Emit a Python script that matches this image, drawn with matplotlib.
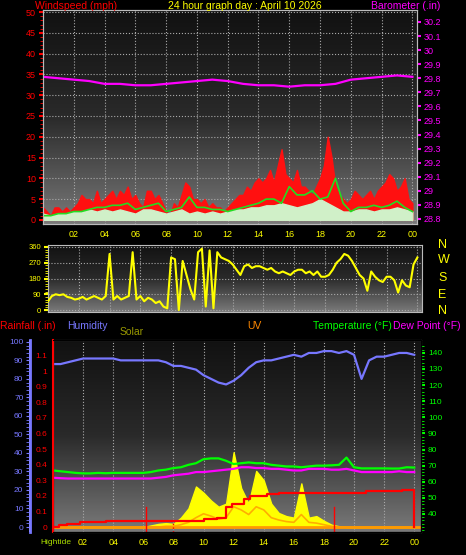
import numpy as np
import matplotlib
matplotlib.use("Agg")
import matplotlib.pyplot as plt
from matplotlib.colors import LinearSegmentedColormap

plt.rcParams['font.family'] = ['Liberation Sans', 'DejaVu Sans']

W, H = 466, 555

# ---------------- data ----------------
hours_q = np.arange(97) * 0.25   # quarter-hourly
hours_h = np.arange(49) * 0.5    # half-hourly
hours_1 = np.arange(25)          # hourly

wind_gust = [3, 2, 1, 3, 3, 2, 3, 2, 3, 4, 6, 5, 5, 4, 7, 4, 5, 6, 7, 5,
             7, 6, 8, 5, 6, 4, 3, 7, 7, 5, 6, 4, 2, 1, 4, 3, 6, 9, 8, 5,
             5, 4, 5, 3, 4, 3, 3, 2, 3, 4, 5, 6, 6, 8, 7, 9, 10, 9, 10, 12,
             9, 13, 17, 11, 10, 9, 12, 8, 8, 7, 6, 8, 10, 13, 20, 15, 8, 6, 5, 4,
             5, 7, 6, 5, 6, 7, 5, 7, 8, 9, 11, 10, 7, 8, 10, 5, 4]
wind_avg = [1.5, 1, 1.5, 1.5, 2, 2, 2.5, 2, 2.5, 2, 2.5, 2, 1.5, 2.5, 2.5, 2, 1.5, 2, 2.5,
            1.5, 2, 1.5, 2, 1.5, 2, 2.5, 2.5, 3, 3, 3.5, 3.5, 4, 3.5, 3, 3.5, 4, 5, 4, 3,
            2, 2, 2.5, 2.5, 2, 2.5, 2.5, 3, 2.5, 2]
wind_line = [1, 1, 1.5, 1.5, 2, 2, 2.5, 3, 3, 3.5, 3.5, 4, 2.5, 3, 3.5, 4, 2, 2.5, 3,
             5.5, 3, 3, 2.5, 2.5, 2, 2.5, 3, 3.5, 4, 5, 5, 4, 8, 6, 6, 7, 5, 5.5, 10,
             4, 2, 3, 3, 3.5, 3, 3.5, 4.5, 3, 2]
baro = [29.81, 29.80, 29.79, 29.78, 29.76, 29.76, 29.75, 29.75, 29.76, 29.77, 29.78,
        29.79, 29.78, 29.76, 29.75, 29.75, 29.74, 29.75, 29.75, 29.76, 29.79, 29.80,
        29.81, 29.82, 29.81]

wind_dir = [50, 80, 90, 85, 90, 75, 70, 60, 65, 75, 60, 70, 80, 70, 60, 80,
            320, 60, 80, 60, 70, 80, 330, 60, 80, 50, 70, 60, 40, 50, 20, 10,
            300, 290, 0, 280, 200, 120, 60, 330, 350, 20, 340, 10, 330, 300, 290, 280,
            260, 230, 200, 250, 260, 240, 250, 250, 240, 230, 240, 220, 210, 220, 210, 200,
            220, 230, 230, 210, 220, 200, 220, 190, 190, 200, 230, 270, 290, 320, 310, 280,
            240, 200, 180, 110, 220, 190, 170, 160, 190, 190, 170, 100, 170, 140, 130, 260, 300]

humidity = [88, 88, 89, 90, 91, 91, 91, 91, 91, 90, 90, 90, 90, 90, 90, 89, 87, 87,
            86, 85, 82, 80, 78, 77, 79, 82, 86, 89, 90, 90, 91, 92, 93, 92, 94, 94,
            95, 95, 94, 95, 93, 80, 90, 92, 92, 93, 94, 94, 93]
temp = [67, 66.5, 66, 65.5, 65.2, 65.2, 65.5, 65.3, 65.5, 65.5, 65.5, 65.5, 65.5, 66,
        67, 67.5, 68.5, 69, 70.5, 71.5, 74, 74.5, 74.5, 73, 71, 71.5, 72, 71.5, 71.5,
        70.5, 70, 69.5, 69.5, 69, 69.5, 70, 70, 70.2, 70.5, 75, 69, 68.3, 68.3, 68.3,
        68.3, 68.2, 68.2, 69, 68.8]
dewpt = [62.5, 62.2, 62, 62, 62, 62, 62, 62, 62, 62, 62, 62, 62, 62, 62.5, 63, 64,
         64.5, 65, 66, 66, 66.5, 67, 67.5, 68, 69, 69, 68.5, 68.5, 68, 68, 67.5, 67,
         67, 68, 68, 68, 67.5, 67.5, 68, 67, 66, 66, 66, 66, 66, 66.5, 66, 66]
solar = [0, 0, 0, 0, 0, 0, 0, 0, 0, 0, 0, 0, 0, 10, 20, 25, 20, 60, 120, 260,
         220, 170, 130, 150, 480, 250, 150, 360, 300, 150, 90, 70, 60, 280, 60, 70,
         40, 15, 5, 0, 0, 0, 0, 0, 0, 0, 0, 0, 0]
uv = [0, 0, 0, 0, 0, 0, 0, 0, 0, 0, 0, 0, 0, 0, 0, 5, 5, 15, 30, 60,
      85, 70, 50, 60, 130, 110, 80, 130, 110, 60, 45, 35, 30, 80, 30, 25,
      15, 5, 0, 0, 0, 0, 0, 0, 0, 0, 0, 0, 0]
rain_t = [0, 0.4, 0.9, 1.8, 3.5, 10.0, 10.9, 11.5, 11.9, 12.7, 13.1, 14.2, 15.0, 20.8, 23.2, 23.95, 23.98]
rain = [0, 0.01, 0.02, 0.03, 0.04, 0.05, 0.06, 0.13, 0.15, 0.18, 0.20, 0.21, 0.22, 0.23, 0.24, 0.24, 0.0]

xticks = list(range(2, 25, 2))
xlabels = ["%02d" % (h % 24) for h in xticks]

# ---------------- helpers ----------------
fig = plt.figure(figsize=(W / 100, H / 100), dpi=100, facecolor='black')
bg = LinearSegmentedColormap.from_list('bg', ['#111111', '#2a2a2a', '#7a7a7a'])
grad = np.linspace(0, 1, 256).reshape(-1, 1)


def px(x0, y0, x1, y1):
    return [x0 / W, 1 - y1 / H, (x1 - x0) / W, (y1 - y0) / H]


def panel(rect, xlim, ylim):
    ax = fig.add_axes(px(*rect))
    ax.set_facecolor('black')
    ax.imshow(grad, cmap=bg, aspect='auto', extent=[0, 1, 0, 1],
              transform=ax.transAxes, zorder=0)
    ax.set_xlim(*xlim)
    ax.set_ylim(*ylim)
    for s in ax.spines.values():
        s.set_color('#bbbbbb')
    ax.grid(True, color='#aaaaaa', linestyle=':', linewidth=0.8, zorder=1)
    return ax


def fmt_axis(ax, color, side='left', size=6.5):
    ax.tick_params(axis='y', colors=color, labelsize=size, length=3, width=1.5,
                   direction='out', pad=2, left=(side == 'left'), right=(side == 'right'),
                   labelleft=(side == 'left'), labelright=(side == 'right'))


# ---------------- top panel: wind + barometer ----------------
ax1 = panel((43, 10, 417, 224), (0, 24.3), (-1, 50.5))
ax1.fill_between(hours_q, 0, wind_gust, color='#ff1010', zorder=2)
ax1.fill_between(hours_h, 0, wind_avg, color='#d0f0c8', zorder=3)
ax1.plot(hours_h, wind_line, color='#22dd22', lw=1.2, zorder=4)
ax1.set_yticks(range(0, 51, 5))
ax1.set_yticks(range(0, 51, 1), minor=True)
fmt_axis(ax1, 'red')
ax1.tick_params(axis='y', which='minor', colors='red', length=2)
ax1.set_xticks(xticks)
ax1.set_xticklabels(xlabels)
ax1.tick_params(axis='x', colors='#ffff00', labelsize=6.5, length=0, pad=4)
ax1b = ax1.twinx()
ax1b.set_ylim(28.764, 30.285)
ax1b.plot(hours_1, baro, color='#ff00ff', lw=1.6)
ax1b.set_yticks(np.round(np.arange(28.8, 30.25, 0.1), 1))
ax1b.set_yticklabels(["%g" % v for v in np.round(np.arange(28.8, 30.25, 0.1), 1)])
fmt_axis(ax1b, '#ff00ff', 'right')
for s in ax1b.spines.values():
    s.set_color('#bbbbbb')

fig.text(35 / W, 1 - 6 / H, "Windspeed (mph)", color='red', fontsize=7.5, va='center')
fig.text(245 / W, 1 - 6 / H, "24 hour graph day : April 10 2026", color='#ffff00',
         fontsize=7.5, va='center', ha='center')
fig.text(440 / W, 1 - 6 / H, "Barometer (.in)", color='#ff00ff', fontsize=7.5,
         va='center', ha='right')

# ---------------- middle panel: wind direction ----------------
ax2 = panel((48, 245, 422, 312), (0, 24.3), (-11, 371))
ax2.plot(hours_q, wind_dir, color='#ffff00', lw=1.5, zorder=3)
ax2.set_yticks([0, 90, 180, 270, 360])
ax2.set_yticks(range(0, 361, 15), minor=True)
fmt_axis(ax2, '#ffff00', size=5.5)
ax2.tick_params(axis='y', which='minor', colors='#ffff00', length=2)
ax2.set_xticks(xticks)
ax2.tick_params(axis='x', length=0, labelbottom=False)
for lab, yy in zip("NWSEN", [245, 260, 278, 295, 311]):
    fig.text(438 / W, 1 - yy / H, lab, color='#ffff00', fontsize=9, va='center')

# ---------------- bottom panel ----------------
ax3 = panel((53, 340, 421, 532), (0, 24.45), (-2.7, 101))
ax3.plot(hours_h, humidity, color='#7777ff', lw=1.6, zorder=4)
ax3.set_yticks([])
ax3.set_xticks(xticks)
ax3.set_xticklabels(xlabels)
ax3.tick_params(axis='x', colors='#ffff00', labelsize=6.5, length=0, pad=4)

# solar / uv on their own hidden scale
ax3s = ax3.twinx()
ax3s.set_ylim(-32, 1200)
ax3s.fill_between(hours_h, 0, solar, color='#ffff00', zorder=2)
ax3s.plot(hours_h, uv, color='#ff9900', lw=1.2, alpha=0.8)
ax3s.axhline(0, color='#ff9900', lw=2)
ax3s.axvline(6.2, ymax=0.13, color='red', lw=1)
ax3s.axvline(18.7, ymax=0.13, color='red', lw=1)
ax3s.axvline(8.0, ymax=0.06, color='red', lw=1, ls=':')
ax3s.set_yticks([])

# temperature / dew point (right, green)
ax3t = ax3.twinx()
ax3t.set_ylim(28.8, 148)
ax3t.plot(hours_h, temp, color='#00ff00', lw=1.6)
ax3t.plot(hours_h, dewpt, color='#ff00ff', lw=1.6)
ax3t.set_yticks(range(40, 141, 10))
ax3t.set_yticks(range(30, 146, 2), minor=True)
fmt_axis(ax3t, '#00ff00', 'right', size=6)
ax3t.tick_params(axis='y', which='minor', colors='#00ff00', length=2)

# rainfall (left, red)
ax3r = ax3.twinx()
ax3r.set_ylim(-0.032, 1.2)
ax3r.plot(rain_t, rain, drawstyle='steps-post', color='red', lw=1.6)
ax3r.yaxis.tick_left()
ax3r.set_yticks(np.round(np.arange(0, 1.15, 0.1), 1))
ax3r.set_yticklabels(["%g" % v for v in np.round(np.arange(0, 1.15, 0.1), 1)])
ax3r.tick_params(axis='y', colors='red', labelsize=6, length=0, pad=4,
                 left=True, right=False, labelleft=True, labelright=False)
ax3r.spines['left'].set_color('red')
ax3r.spines['left'].set_linewidth(1.5)

# humidity axis (far left, blue)
axh = fig.add_axes(px(29, 340, 30, 532))
axh.set_ylim(-2.7, 101)
axh.set_xticks([])
axh.set_yticks(range(0, 101, 10))
axh.set_yticks(range(0, 101, 2), minor=True)
for k, s in axh.spines.items():
    s.set_visible(k == 'right')
axh.spines['right'].set_color('#7777ff')
axh.spines['right'].set_linewidth(2)
axh.yaxis.tick_left()
axh.tick_params(axis='y', which='both', colors='#7777ff', labelsize=6, length=2, pad=2)

fig.text(0, 1 - 326 / H, "Rainfall (.in)", color='red', fontsize=7.5, va='center')
fig.text(67 / W, 1 - 326 / H, "Humidity", color='#7777ff', fontsize=7.5, va='center')
fig.text(120 / W, 1 - 332 / H, "Solar", color='#999900', fontsize=7.5, va='center')
fig.text(247 / W, 1 - 326 / H, "UV", color='#ff8800', fontsize=7.5, va='center')
fig.text(313 / W, 1 - 326 / H, "Temperature (°F)", color='#00ff00', fontsize=7.5, va='center')
fig.text(393 / W, 1 - 326 / H, "Dew Point (°F)", color='#ff00ff', fontsize=7.5, va='center')
fig.text(40 / W, 1 - 542 / H, "Hightide", color='#aadd00', fontsize=6, va='center')

fig.savefig("out.png", dpi=100, facecolor='black')
